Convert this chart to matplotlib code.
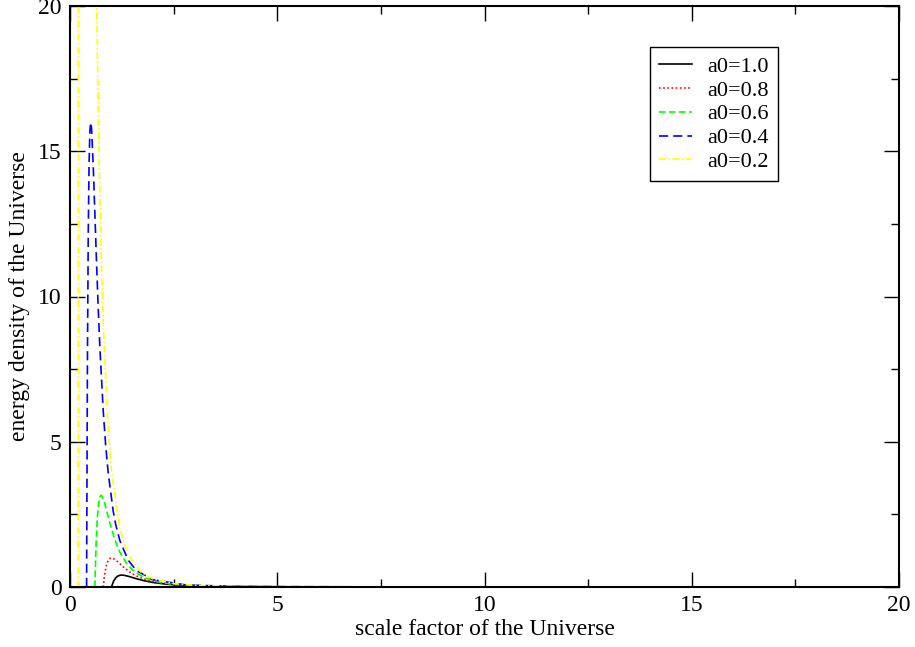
import matplotlib
matplotlib.use('Agg')
import matplotlib.pyplot as plt
from matplotlib.ticker import MultipleLocator

plt.rcParams['font.family'] = ['Liberation Serif', 'DejaVu Serif']

# values, one list pair per curve
x_10 = [1.0, 1.05, 1.1, 1.15, 1.2, 1.25, 1.3, 1.4, 1.5, 1.6, 1.8, 2.0, 2.3, 2.6, 3.0, 3.5, 4.0, 5.0, 7.0, 10.0, 20.0]
y_10 = [0, 0.196, 0.310, 0.373, 0.402, 0.410, 0.404, 0.372, 0.329, 0.286, 0.212, 0.156, 0.101, 0.067, 0.041, 0.024, 0.015, 0.0064, 0.0018, 0.0005, 0.0]

x_08 = [0.80, 0.84, 0.88, 0.92, 0.96, 1.00, 1.04, 1.12, 1.20, 1.28, 1.44, 1.60, 1.84, 2.08, 2.40, 2.80, 3.20, 4.00, 5.60, 8.0, 20.0]
y_08 = [0, 0.478, 0.758, 0.910, 0.981, 1.000, 0.986, 0.908, 0.804, 0.698, 0.517, 0.381, 0.247, 0.164, 0.100, 0.058, 0.036, 0.016, 0.0044, 0.0011, 0.0]

x_06 = [0.60, 0.63, 0.66, 0.69, 0.72, 0.75, 0.78, 0.84, 0.90, 0.96, 1.08, 1.20, 1.38, 1.56, 1.80, 2.10, 2.40, 3.00, 4.20, 6.0, 20.0]
y_06 = [0, 1.512, 2.395, 2.877, 3.101, 3.160, 3.117, 2.869, 2.540, 2.208, 1.633, 1.206, 0.779, 0.520, 0.318, 0.184, 0.113, 0.049, 0.014, 0.0035, 0.0]

x_04 = [0.40, 0.42, 0.44, 0.46, 0.48, 0.50, 0.52, 0.56, 0.60, 0.64, 0.68, 0.72, 0.80, 0.86, 0.92, 1.04, 1.10, 1.20, 1.40, 1.60, 2.00, 2.80, 4.0, 8.0, 20.0]
y_04 = [0, 7.65, 12.13, 14.56, 15.70, 16.00, 15.78, 14.52, 12.86, 11.18, 9.63, 8.27, 6.10, 4.89, 3.95, 2.63, 2.17, 1.61, 0.93, 0.57, 0.25, 0.070, 0.018, 0.001, 0.0]

x_02 = [0.20, 0.21, 0.22, 0.23, 0.24, 0.25, 0.26, 0.28, 0.30, 0.32, 0.36, 0.40, 0.46, 0.52, 0.60, 0.65, 0.70, 0.75, 0.80, 0.90, 1.00, 1.20, 1.40, 1.70, 2.0, 2.5, 3.0, 4.0, 8.0, 20.0]
y_02 = [0, 122.4, 194.0, 233.0, 251.2, 256.0, 252.5, 232.4, 205.8, 178.8, 132.3, 97.7, 63.1, 42.1, 25.7, 19.39, 14.9, 11.57, 9.16, 5.93, 4.00, 2.01, 1.12, 0.528, 0.28, 0.118, 0.058, 0.019, 0.001, 0.0]

labels = ['a0=1.0', 'a0=0.8', 'a0=0.6', 'a0=0.4', 'a0=0.2']

fig = plt.figure(figsize=(9.15, 6.47), dpi=100)
ax = fig.add_axes([70 / 915, 1 - 587 / 647, 829 / 915, 581 / 647])

lw = 1.2
ax.plot(x_10, y_10, color='black', lw=lw, label=labels[0])
ax.plot(x_08, y_08, color='#ff0000', lw=lw, linestyle=(0, (1, 1.5)), label=labels[1])
ax.plot(x_06, y_06, color='#00ff00', lw=lw, linestyle=(0, (4, 2)), label=labels[2])
ax.plot(x_04, y_04, color='#0000ff', lw=lw, linestyle=(0, (5.5, 3)), label=labels[3])
ax.plot(x_02, y_02, color='#ffff00', lw=lw, linestyle=(0, (4, 1.5, 1, 1.5)), label=labels[4])

ax.set_xlim(0, 20)
ax.set_ylim(0, 20)
ax.xaxis.set_major_locator(MultipleLocator(5))
ax.xaxis.set_minor_locator(MultipleLocator(2.5))
ax.yaxis.set_major_locator(MultipleLocator(5))
ax.yaxis.set_minor_locator(MultipleLocator(2.5))
ax.tick_params(which='both', direction='in', top=True, right=True, labelsize=17, width=1.0)
ax.tick_params(which='major', length=11, pad=6)
ax.tick_params(which='minor', length=5.8)
for s in ax.spines.values():
    s.set_linewidth(1.5)

ax.set_xlabel('scale factor of the Universe', fontsize=17, labelpad=2)
ax.set_ylabel('energy density of the Universe', fontsize=17, labelpad=6)

leg = ax.legend(loc='upper left', bbox_to_anchor=(0.6996, 0.929), fontsize=16,
                frameon=True, fancybox=False, shadow=False, framealpha=1,
                edgecolor='black', handlelength=1.5, handletextpad=0.7,
                labelspacing=0.15, borderpad=0.4, borderaxespad=0)
leg.get_frame().set_linewidth(1.0)

fig.savefig('out.png', dpi=100)
